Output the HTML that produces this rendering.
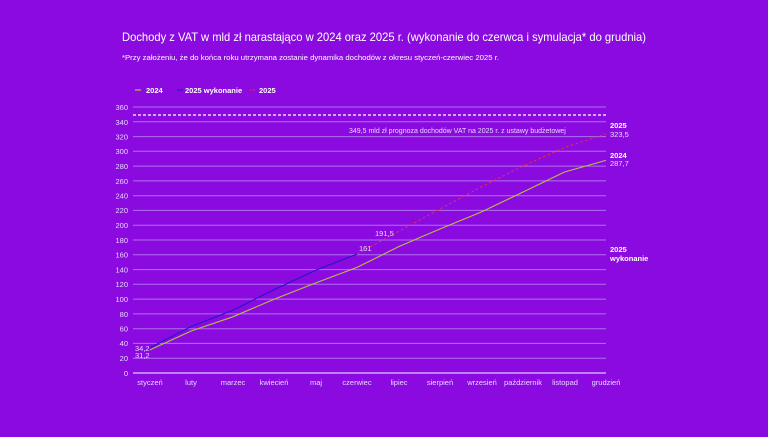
<!DOCTYPE html>
<html><head><meta charset="utf-8"><style>
body{margin:0;width:768px;height:432px;background:#8a0ae0;overflow:hidden;font-family:"Liberation Sans",sans-serif;}
</style></head><body>
<svg width="768" height="432" xmlns="http://www.w3.org/2000/svg" font-family="Liberation Sans, sans-serif">
<rect width="768" height="432" fill="#8a0ae0"/>
<text x="122" y="41" fill="#fff" font-size="12" textLength="524" lengthAdjust="spacingAndGlyphs">Dochody z VAT w mld zł narastająco w 2024 oraz 2025 r. (wykonanie do czerwca i symulacja* do grudnia)</text>
<text x="122" y="60" fill="#fff" font-size="7.5" textLength="377" lengthAdjust="spacingAndGlyphs">*Przy założeniu, że do końca roku utrzymana zostanie dynamika dochodów z okresu styczeń-czerwiec 2025 r.</text>
<g font-size="7.5" fill="#fff" font-weight="bold">
<line x1="135" y1="90" x2="141" y2="90" stroke="#b8c040" stroke-width="1.2"/><text x="146" y="93">2024</text>
<line x1="177" y1="90" x2="183" y2="90" stroke="#2020c0" stroke-width="1.2"/><text x="185" y="93">2025 wykonanie</text>
<line x1="250" y1="90" x2="256" y2="90" stroke="#e02050" stroke-width="1.2" stroke-dasharray="2,1"/><text x="259" y="93">2025</text>
</g>
<g stroke="#b070f0" stroke-width="1">
<line x1="133" y1="107" x2="606" y2="107"/><line x1="133" y1="121.8" x2="606" y2="121.8"/><line x1="133" y1="136.6" x2="606" y2="136.6"/><line x1="133" y1="151.3" x2="606" y2="151.3"/><line x1="133" y1="166.1" x2="606" y2="166.1"/><line x1="133" y1="180.9" x2="606" y2="180.9"/><line x1="133" y1="195.7" x2="606" y2="195.7"/><line x1="133" y1="210.4" x2="606" y2="210.4"/><line x1="133" y1="225.2" x2="606" y2="225.2"/><line x1="133" y1="240" x2="606" y2="240"/><line x1="133" y1="254.8" x2="606" y2="254.8"/><line x1="133" y1="269.6" x2="606" y2="269.6"/><line x1="133" y1="284.3" x2="606" y2="284.3"/><line x1="133" y1="299.1" x2="606" y2="299.1"/><line x1="133" y1="313.9" x2="606" y2="313.9"/><line x1="133" y1="328.7" x2="606" y2="328.7"/><line x1="133" y1="343.4" x2="606" y2="343.4"/><line x1="133" y1="358.2" x2="606" y2="358.2"/>
</g>
<line x1="133" y1="373" x2="606" y2="373" stroke="#e0c8ff" stroke-width="1.2"/>
<g font-size="7.5" fill="#e8d8ff" text-anchor="end">
<text x="128" y="110">360</text><text x="128" y="125">340</text><text x="128" y="139.5">320</text><text x="128" y="154">300</text><text x="128" y="169">280</text><text x="128" y="184">260</text><text x="128" y="198.5">240</text><text x="128" y="213">220</text><text x="128" y="228">200</text><text x="128" y="243">180</text><text x="128" y="257.5">160</text><text x="128" y="272.5">140</text><text x="128" y="287">120</text><text x="128" y="302">100</text><text x="128" y="317">80</text><text x="128" y="331.5">60</text><text x="128" y="346">40</text><text x="128" y="361">20</text><text x="128" y="376">0</text>
</g>
<g font-size="7.5" fill="#e8d8ff" text-anchor="middle">
<text x="150" y="385">styczeń</text><text x="191" y="385">luty</text><text x="233" y="385">marzec</text><text x="274" y="385">kwiecień</text><text x="316" y="385">maj</text><text x="357" y="385">czerwiec</text><text x="399" y="385">lipiec</text><text x="440" y="385">sierpień</text><text x="482" y="385">wrzesień</text><text x="523" y="385">październik</text><text x="565" y="385">listopad</text><text x="606" y="385">grudzień</text>
</g>
<line x1="133" y1="115" x2="606" y2="115" stroke="#fff" stroke-width="1.3" stroke-dasharray="3,2"/>
<text x="349" y="133" font-size="7" fill="#e8d8ff">349,5 mld zł prognoza dochodów VAT na 2025 r.  z ustawy budżetowej</text>
<polyline fill="none" stroke="#e03050" stroke-width="1.1" stroke-dasharray="2.5,2.5" points="357,254 398.5,231.5 440,209 481.4,186.8 522.9,166.1 564.3,147.6 605.8,134"/>
<polyline fill="none" stroke="#b8c040" stroke-width="1.1" points="150,349.9 191.5,330.9 232.9,316.8 274.4,299.1 315.8,282.9 357.3,267.3 398.7,246.6 440.2,228.9 481.6,211.9 523.1,192 564.5,172 606,160.4"/>
<polyline fill="none" stroke="#2018c8" stroke-width="1.1" points="150,347.7 191.5,326.4 232.9,310.2 274.4,289.5 315.8,270.3 357.3,254"/>
<g font-size="7.5" fill="#e8d8ff">
<text x="135" y="351">34,2</text><text x="135" y="358">31,2</text>
<text x="359" y="251">161</text><text x="375" y="236">191,5</text>
</g>
<g font-size="7.5" fill="#fff" font-weight="bold">
<text x="610" y="128">2025</text><text x="610" y="158">2024</text><text x="610" y="252">2025</text><text x="610" y="261">wykonanie</text>
</g>
<g font-size="7.5" fill="#e8d8ff"><text x="610" y="137">323,5</text><text x="610" y="166">287,7</text></g>
</svg>
</body></html>
